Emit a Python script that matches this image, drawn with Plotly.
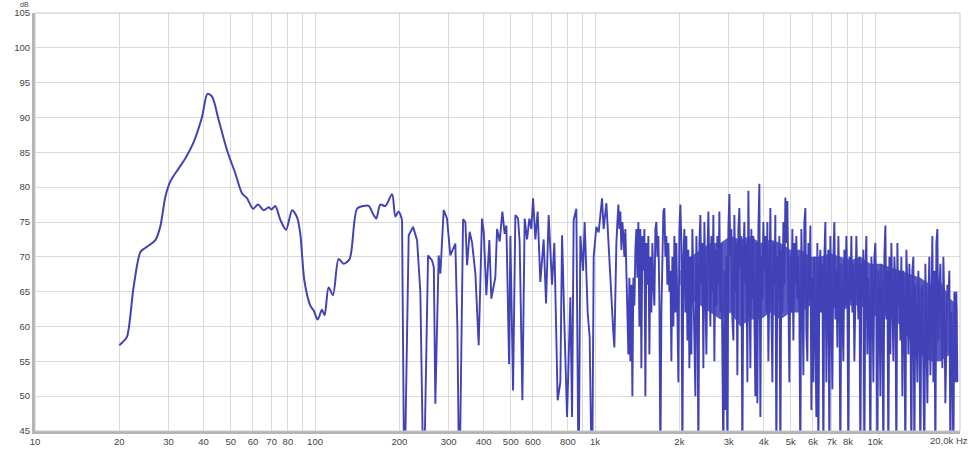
import numpy as np
import plotly.graph_objects as go

# ---- data: low / mid frequency part (Hz, dB) ----
freq_lo = [20.0, 20.6, 21.3, 22.5, 23.8, 24.8, 26.9, 28.0, 29.2, 30.4, 32.6, 34.4, 36.9, 39.5,
           41.3, 42.9, 45.3, 48.5, 51.9, 54.9, 57.2, 60.1, 62.6, 65.5, 68.3, 70.0, 72.1, 75.2,
           78.8, 82.8, 86.2, 88.6, 91.6, 96.2, 98.9, 102.2, 105.9, 108.2, 111.8, 115.9, 121.4,
           126.5, 132.9, 141.3, 149.2, 155.4, 161.9, 165.5, 171.1, 178.3, 188.4, 193.6, 198.9,
           204.5]
db_lo = [57.3, 57.8, 58.5, 65.7, 70.7, 71.3, 72.4, 74.3, 78.6, 80.8, 82.7, 84.1, 86.5, 90.1,
         93.4, 93.0, 89.6, 85.3, 82.0, 79.1, 78.4, 76.9, 77.5, 76.7, 77.1, 76.8, 77.3, 75.3,
         73.9, 76.7, 75.7, 73.3, 66.6, 63.0, 62.3, 61.0, 62.4, 61.6, 65.6, 64.5, 69.7,
         69.0, 69.7, 76.9, 77.3, 77.3, 76.0, 75.5, 77.5, 77.3, 79.0, 75.8, 76.5,
         75.3]

# ---- 200 Hz .. 1.1 kHz (Hz, dB) ----
freq_mid = [204.5, 208.4, 216.0, 223.9, 231.4, 237.7, 244.3, 253.3, 261.7, 265.6, 268.9, 276.4,
            280.3, 288.0, 296.0, 304.2, 317.0, 322.3, 327.6, 337.8, 344.2, 349.1, 356.6, 363.8,
            373.8, 384.1, 394.7, 400.6, 409.0, 419.3, 426.2, 440.5, 446.7, 456.4, 466.6, 475.5,
            482.3, 493.1, 498.4, 509.5, 519.3, 530.9, 538.0, 550.1, 560.6, 571.7, 582.7, 592.3,
            600.6, 612.1, 623.7, 637.6, 655.2, 668.3, 682.8, 702.1, 715.5, 735.2, 751.6, 762.3,
            778.8, 794.3, 816.2, 827.7, 838.6, 857.4, 873.8, 886.1, 906.0, 918.1, 941.0, 956.5,
            975.6, 988.6, 1010.7, 1030.0, 1059.0, 1073.0, 1097.5, 1115.6, 1134.0]
db_mid = [75.3, 35.0, 73.1, 74.3, 72.4, 65.0, 35.0, 70.2, 69.5, 68.5, 48.9, 70.2,
          67.6, 76.7, 75.5, 70.2, 71.9, 60.0, 35.0, 75.4, 75.0, 68.8, 73.6, 72.0,
          67.6, 57.3, 75.5, 73.5, 64.5, 72.4, 64.0, 67.1, 74.0, 72.2, 76.5, 73.3,
          74.5, 54.6, 73.0, 50.8, 76.0, 75.5, 72.0, 49.4, 75.5, 72.5, 75.5, 74.0,
          78.4, 72.5, 76.5, 66.4, 72.5, 63.3, 76.0, 66.0, 72.0, 49.4, 52.0, 73.1,
          59.0, 47.0, 64.2, 47.0, 75.3, 76.9, 35.0, 73.0, 68.0, 75.0, 62.0, 58.5,
          35.0, 70.0, 74.3, 73.5, 78.4, 74.0, 77.7, 72.0, 66.0]

# ---- dense high-frequency part: dB values read column by column ----
F_HI_START = 1153.0
F_HI_END = 19670.0
db_hi = [
    62, 59, 57, 68, 72, 75, 77.5, 74, 76.5, 71,
    75, 73, 70, 74, 68, 63, 56, 67, 55, 66,
    50, 67, 63, 71, 74, 67, 75, 60, 74, 54,
    73, 68, 74, 50, 72, 66, 73, 56, 70, 62,
    72, 66, 63, 74, 75, 70, 73, 64, 40, 62,
    72, 76.5, 77, 70, 73, 66, 72, 65, 68, 55,
    70, 60, 73, 62, 72, 64, 52, 74, 77.5, 72,
    40, 70, 74, 62, 73, 58, 71, 54, 70, 56,
    74, 66, 60, 50, 73, 67, 40, 72,
    76, 66, 72, 54, 75, 64, 56, 70, 76.5, 68,
    60, 73, 65, 76, 55, 71, 63, 73, 66, 76.5,
    62, 72, 58, 40, 68, 48, 70, 40, 74, 79,
    70, 74, 61, 58, 76, 65, 72, 53, 74, 77,
    68, 73, 40, 70, 75, 66, 72, 52, 79.5, 69,
    54, 74, 64, 73, 60, 50, 72, 49, 74, 80.5,
    47, 70, 64, 75, 68, 73, 62, 75, 55, 70,
    77, 63, 52, 72, 66, 76, 40, 70, 64, 73,
    40, 71, 62, 75, 66, 78.5, 72, 78, 60, 52,
    70, 62, 74, 58, 72, 66, 73, 64, 70, 62,
    40, 74, 66, 53, 75, 77, 59, 55, 72, 64,
    74.5, 48, 67, 52, 70, 60, 47, 72, 40, 68,
    71, 62, 69, 40, 70, 75, 52, 66, 71, 40,
    73, 62, 51, 70, 75, 61, 68, 57, 73, 65,
    40, 69, 63, 55, 71, 63, 73, 66, 40, 70,
    64, 73, 62, 69, 55, 68, 73, 66, 61, 70,
    40, 69, 64, 71, 40, 68, 73, 56, 67, 62,
    40, 70, 66, 52, 70, 72, 63, 40, 68, 65,
    50, 69, 62, 40, 70, 74.5, 61, 68, 40, 70,
    56, 72, 64, 55, 70, 66, 40, 72, 63, 68,
    58, 70, 50, 68, 62, 40, 71, 66, 56, 69,
    63, 40, 68, 70, 40, 66, 60, 52, 68, 61,
    40, 65, 66, 55, 40, 69, 60, 49, 64, 70,
    53, 66, 73, 52, 68, 40, 72, 74, 58, 65,
    69, 60, 54, 70, 63, 49, 62, 66, 64, 68,
    40, 62, 56, 40, 65, 52, 65, 52,
]

# ---- solid core of the dense band (where the trace fills in completely) ----
core_freq = [2016, 2190, 2377, 2581, 2802, 3042, 3303, 3585, 3894, 4227, 4590, 4983, 5411,
             5873, 6378, 6924, 7518, 8162, 8862, 9621, 10445, 11338, 12313, 13368, 14512,
             15757, 17109, 18571, 19670]
core_low = [66, 64, 63, 62, 61, 62, 60, 61, 61, 62, 61, 62, 62, 63, 62, 63, 62, 63, 63, 62,
            61, 62, 60, 58, 56, 55, 55, 56, 57]
core_high = [68, 70, 71, 72, 72, 73, 72.5, 73, 72, 72.5, 72, 71, 71, 70, 70, 70.5, 70, 69.5,
             70, 69, 69, 68.5, 68, 67.5, 67, 66, 66.5, 64, 63]

x_tickvals = [10, 20, 30, 40, 50, 60, 70, 80, 90, 100, 200, 300, 400, 500, 600, 700, 800, 900,
              1000, 2000, 3000, 4000, 5000, 6000, 7000, 8000, 9000, 10000, 20000]
x_ticktext = ["10", "20", "30", "40", "50", "60", "70", "80", "", "100", "200", "300", "400",
              "500", "600", "", "800", "", "1k", "2k", "3k", "4k", "5k", "6k", "7k", "8k", "",
              "10k", ""]
y_tickvals = list(range(45, 106, 5))

freq_hi = np.geomspace(F_HI_START, F_HI_END, len(db_hi))
freq_rest = list(freq_mid) + list(freq_hi)
db_rest = list(db_mid) + list(db_hi)

LINE = "#4242B8"
GRID = "#D9D9D9"
FRAME = "#B4B4B4"
FONT = "Liberation Sans, Arial, sans-serif"

fig = go.Figure()
fig.add_trace(go.Scatter(x=core_freq, y=core_low, mode="lines", line=dict(width=0, color=LINE),
                         hoverinfo="skip"))
fig.add_trace(go.Scatter(x=core_freq, y=core_high, mode="lines", line=dict(width=0, color=LINE),
                         fill="tonexty", fillcolor="rgba(66,66,184,0.88)", hoverinfo="skip"))
fig.add_trace(go.Scatter(x=freq_lo, y=db_lo, mode="lines",
                         line=dict(color=LINE, width=2, shape="spline", smoothing=0.8),
                         hoverinfo="skip"))
fig.add_trace(go.Scatter(x=freq_rest, y=db_rest, mode="lines",
                         line=dict(color=LINE, width=1.9), hoverinfo="skip"))

fig.update_layout(
    width=975, height=450,
    margin=dict(l=35, r=15, t=13, b=19, autoexpand=False),
    paper_bgcolor="white", plot_bgcolor="white",
    showlegend=False,
    font=dict(family=FONT, size=9.5, color="#444444"),
    xaxis=dict(type="log", range=[1, np.log10(20100)], tickvals=x_tickvals,
               ticktext=x_ticktext, showgrid=True, gridcolor=GRID, gridwidth=1,
               showline=True, linecolor=FRAME, linewidth=3, ticks="", zeroline=False,
               tickangle=0, fixedrange=True, automargin=False),
    yaxis=dict(range=[45, 105], tickvals=y_tickvals, showgrid=True, gridcolor=GRID,
               gridwidth=1, showline=True, linecolor=FRAME, linewidth=3, ticks="",
               zeroline=False, fixedrange=True, automargin=False),
    shapes=[dict(type="rect", xref="paper", yref="paper", x0=0, x1=1, y0=0, y1=1,
                 line=dict(color="#C8C8C8", width=1), fillcolor="rgba(0,0,0,0)", layer="above")],
    annotations=[
        dict(text="dB", xref="paper", yref="paper", x=-0.011, y=1.021, showarrow=False,
             xanchor="center", yanchor="middle", font=dict(family=FONT, size=7, color="#444444")),
        dict(text="20,0k Hz", xref="paper", yref="paper", x=1.0105, y=-0.022, showarrow=False,
             xanchor="right", yanchor="middle", font=dict(family=FONT, size=9.5, color="#444444")),
    ],
)

fig.write_html("out.html", config={"displayModeBar": False},
               post_script="document.body.style.margin='0';document.body.style.padding='0';"
                           "document.body.style.overflow='hidden';")
